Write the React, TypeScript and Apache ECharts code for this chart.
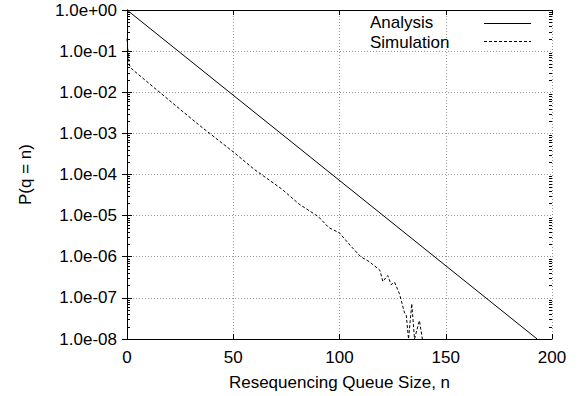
import React, { useEffect, useRef } from "react";
import * as echarts from "echarts";

// Analysis: straight line on the log scale
const analysisN = [0, 193];
const analysisP = [1.0, 1e-8];

// Simulation
const simN = [
  0, 1, 2, 5, 10, 13, 20, 34, 50, 60, 73, 81, 90, 95, 100, 105, 110, 114, 119,
  120.4, 122.7, 124.3, 125.9, 128.2, 129, 130.6, 131.4, 132.5, 134, 135.3,
  137.6, 139,
];
const simP = [
  0.2, 0.047, 0.038, 0.028, 0.017, 0.0126, 0.0063, 0.00158, 3.55e-4, 1.32e-4,
  4.37e-5, 1.9e-5, 9.5e-6, 5.1e-6, 3.8e-6, 1.9e-6, 1.0e-6, 7.6e-7, 4.7e-7,
  2.5e-7, 3.5e-7, 2.1e-7, 2.4e-7, 1.26e-7, 8.9e-8, 4.3e-8, 3.8e-8, 1e-8,
  7.2e-8, 1e-8, 2.8e-8, 1e-8,
];

const xTicks = { min: 0, max: 200, interval: 50 };
const yRange = { min: 1e-8, max: 1 };
const minorMantissas = [2, 3, 4, 5, 6, 7, 8, 9];
const decades = [-8, -7, -6, -5, -4, -3, -2, -1];

const seriesNames = ["Analysis", "Simulation"];
const xName = "Resequencing Queue Size, n";
const yName = "P(q = n)";

const FONT = "'Liberation Sans', Arial, Helvetica, sans-serif";

function fmtExp(v: number): string {
  const e = Math.round(Math.log10(v));
  const sign = e < 0 ? "-" : "+";
  return "1.0e" + sign + String(Math.abs(e)).padStart(2, "0");
}

export default function App() {
  const ref = useRef<HTMLDivElement>(null);
  useEffect(() => {
    if (!ref.current) return;
    const chart = echarts.init(ref.current, undefined, { renderer: "svg" });
    const minorVals: number[][] = [];
    decades.forEach((d) =>
      minorMantissas.forEach((m) => minorVals.push([0, m * Math.pow(10, d)]))
    );
    const axisLine = { show: true, lineStyle: { color: "#000", width: 1 } };
    const labelStyle = { color: "#000", fontSize: 17, fontFamily: FONT };
    chart.setOption({
      animation: false,
      backgroundColor: "#fff",
      grid: { left: 127, top: 10, width: 425, height: 329, containLabel: false },
      xAxis: [
        {
          type: "value",
          min: xTicks.min,
          max: xTicks.max,
          interval: xTicks.interval,
          position: "bottom",
          name: xName,
          nameLocation: "middle",
          nameGap: 35,
          nameTextStyle: { color: "#000", fontSize: 17, fontFamily: FONT },
          axisLine,
          axisTick: { show: true, inside: true, length: 5, lineStyle: { color: "#000" } },
          axisLabel: { ...labelStyle, margin: 10 },
          splitLine: { show: true, lineStyle: { color: "#999", type: [1, 2], width: 1 } },
        },
        {
          type: "value",
          min: xTicks.min,
          max: xTicks.max,
          interval: xTicks.interval,
          position: "top",
          axisLine,
          axisTick: { show: true, inside: true, length: 5, lineStyle: { color: "#000" } },
          axisLabel: { show: false },
          splitLine: { show: false },
        },
      ],
      yAxis: [
        {
          type: "log",
          logBase: 10,
          min: yRange.min,
          max: yRange.max,
          splitNumber: 8,
          position: "left",
          name: yName,
          nameLocation: "middle",
          nameGap: 93,
          nameRotate: 90,
          nameTextStyle: { color: "#000", fontSize: 17, fontFamily: FONT },
          axisLine,
          axisTick: { show: true, inside: true, length: 5, lineStyle: { color: "#000" } },
          axisLabel: { ...labelStyle, margin: 10, formatter: (v: number) => fmtExp(v) },
          splitLine: { show: true, lineStyle: { color: "#999", type: [1, 2], width: 1 } },
        },
        {
          type: "log",
          logBase: 10,
          min: yRange.min,
          max: yRange.max,
          splitNumber: 8,
          position: "right",
          axisLine,
          axisTick: { show: true, inside: true, length: 5, lineStyle: { color: "#000" } },
          axisLabel: { show: false },
          splitLine: { show: false },
        },
      ],
      graphic: [
        {
          type: "text",
          left: 370,
          top: 14,
          style: { text: seriesNames[0], fill: "#000", fontSize: 17, fontFamily: FONT },
        },
        {
          type: "text",
          left: 370,
          top: 33.5,
          style: { text: seriesNames[1], fill: "#000", fontSize: 17, fontFamily: FONT },
        },
        {
          type: "line",
          shape: { x1: 484, y1: 23.5, x2: 531, y2: 23.5 },
          style: { stroke: "#000", lineWidth: 1 },
        },
        {
          type: "line",
          shape: { x1: 484, y1: 41.5, x2: 531, y2: 41.5 },
          style: { stroke: "#000", lineWidth: 1, lineDash: [3, 2] },
        },
      ],
      series: [
        {
          name: seriesNames[0],
          type: "line",
          xAxisIndex: 0,
          yAxisIndex: 0,
          data: analysisN.map((n, i) => [n, analysisP[i]]),
          showSymbol: false,
          symbol: "none",
          clip: true,
          lineStyle: { color: "#000", width: 1, type: "solid" },
          z: 5,
        },
        {
          name: seriesNames[1],
          type: "line",
          xAxisIndex: 0,
          yAxisIndex: 0,
          data: simN.map((n, i) => [n, simP[i]]),
          showSymbol: false,
          symbol: "none",
          clip: true,
          lineStyle: { color: "#000", width: 1, type: [3, 2] },
          z: 5,
        },
        {
          type: "custom",
          xAxisIndex: 0,
          yAxisIndex: 0,
          silent: true,
          clip: false,
          data: minorVals,
          renderItem: (params: any, api: any) => {
            const v = api.value(1);
            const p1 = api.coord([xTicks.min, v]);
            const p2 = api.coord([xTicks.max, v]);
            const y = Math.round(p1[1]) + 0.5;
            const xl = Math.round(p1[0]);
            const xr = Math.round(p2[0]);
            return {
              type: "group",
              children: [
                {
                  type: "line",
                  shape: { x1: xl, y1: y, x2: xl + 3, y2: y },
                  style: { stroke: "#000", lineWidth: 1 },
                },
                {
                  type: "line",
                  shape: { x1: xr - 3, y1: y, x2: xr, y2: y },
                  style: { stroke: "#000", lineWidth: 1 },
                },
              ],
            };
          },
          z: 6,
        },
      ],
    });
    return () => chart.dispose();
  }, []);
  return (
    <div
      ref={ref}
      style={{ position: "absolute", left: 0, top: 0, width: 584, height: 396 }}
    />
  );
}
